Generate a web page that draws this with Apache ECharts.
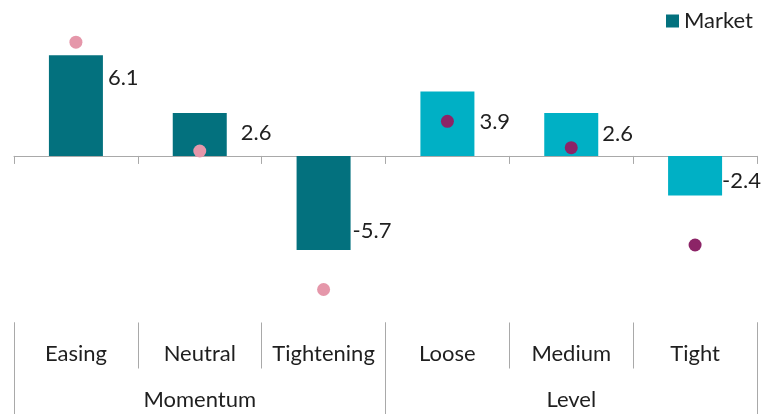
<!DOCTYPE html>
<html>
<head>
<meta charset="utf-8">
<script src="https://cdn.jsdelivr.net/npm/echarts@6/dist/echarts.min.js"></script>
<style>
  html, body { margin: 0; padding: 0; background: #ffffff; }
  #chart { width: 762px; height: 414px; }
</style>
</head>
<body>
<div id="chart"></div>
<script>
// Conditions and their groups
const categories = ['Easing', 'Neutral', 'Tightening', 'Loose', 'Medium', 'Tight'];
const groups = ['Momentum', 'Level'];
const categoryGroup = ['Momentum', 'Momentum', 'Momentum', 'Level', 'Level', 'Level'];

// Market returns per condition (bars)
const marketValues = [6.1, 2.6, -5.7, 3.9, 2.6, -2.4];
// Comparison points per condition (dots)
const pointValues = [6.9, 0.3, -8.1, 2.1, 0.5, -5.4];

// Styling
const FONT = 'Lato';
const TEXT = '#1f1f1f';
const GRID_LINE = '#a9a9a9';
const barColors = { Momentum: '#03717e', Level: '#00b0c5' };
const dotColors = { Momentum: '#e597aa', Level: '#8c2467' };
// Label nudges [dx, dy] so value labels sit clear of the dots
const labelNudges = [[0, -28], [9, -2], [-3, 28], [0, -2], [-1, -1], [-5, 5]];

const chart = echarts.init(document.getElementById('chart'), null, { renderer: 'canvas' });

const barData = marketValues.map((v, i) => ({
  value: v,
  itemStyle: { color: barColors[categoryGroup[i]] },
  label: { offset: labelNudges[i] }
}));

const dotData = pointValues.map((v, i) => ({
  value: v,
  itemStyle: { color: dotColors[categoryGroup[i]], opacity: 1 }
}));

chart.setOption({
  animation: false,
  textStyle: { fontFamily: FONT, color: TEXT },
  legend: {
    data: ['Market'],
    right: 4,
    top: 5,
    icon: 'rect',
    itemWidth: 13,
    itemHeight: 13,
    itemGap: 10,
    textStyle: { fontFamily: FONT, fontSize: 22, color: TEXT }
  },
  grid: { left: 14, right: 5, top: 7.5, bottom: 91.5 },
  xAxis: [
    {
      // zero line with short boundary ticks
      type: 'category',
      data: categories,
      position: 'bottom',
      axisLine: { show: true, onZero: true, lineStyle: { color: GRID_LINE, width: 1 } },
      axisTick: { show: true, interval: 0, length: 8, alignWithLabel: false, lineStyle: { color: GRID_LINE } },
      axisLabel: { show: false, interval: 0 },
      splitLine: { show: false }
    },
    {
      // condition labels with separators
      type: 'category',
      data: categories,
      position: 'bottom',
      axisLine: { show: false, onZero: false },
      axisTick: { show: true, interval: 0, length: 46, alignWithLabel: false, lineStyle: { color: GRID_LINE } },
      axisLabel: { show: true, interval: 0, margin: 20, fontFamily: FONT, fontSize: 22, color: TEXT },
      splitLine: { show: false }
    },
    {
      // group labels with full-height separators
      type: 'category',
      data: groups,
      position: 'bottom',
      axisLine: { show: false, onZero: false },
      axisTick: { show: true, interval: 0, length: 92, alignWithLabel: false, lineStyle: { color: GRID_LINE } },
      axisLabel: { show: true, interval: 0, margin: 66, fontFamily: FONT, fontSize: 22, color: TEXT },
      splitLine: { show: false }
    }
  ],
  yAxis: {
    type: 'value',
    min: -10.1,
    max: 9,
    show: false,
    splitLine: { show: false }
  },
  series: [
    {
      name: 'Market',
      type: 'bar',
      xAxisIndex: 0,
      barWidth: 54,
      itemStyle: { color: barColors.Momentum },
      label: {
        show: true,
        position: 'right',
        distance: 5,
        fontFamily: FONT,
        fontSize: 22,
        color: TEXT,
        formatter: p => p.value.toFixed(1)
      },
      data: barData,
      z: 2
    },
    {
      name: 'Points',
      type: 'scatter',
      xAxisIndex: 0,
      symbol: 'circle',
      symbolSize: 13,
      itemStyle: { opacity: 1 },
      data: dotData,
      z: 3
    }
  ]
});
</script>
</body>
</html>
